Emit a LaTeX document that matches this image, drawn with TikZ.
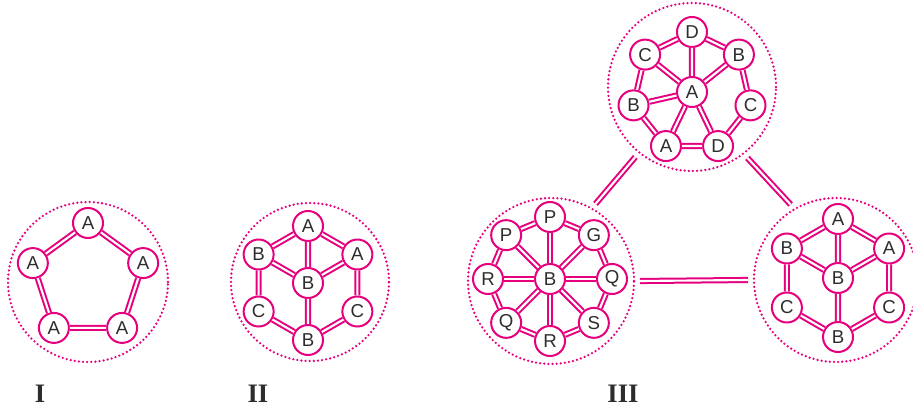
\documentclass[tikz,border=0pt]{standalone}
\usepackage{fontspec}
\setmainfont{Liberation Serif}
\newfontfamily\atomfont{Liberation Sans}
\definecolor{mag}{RGB}{230,0,126}
\definecolor{txt}{RGB}{45,45,45}
\begin{document}
\begin{tikzpicture}[x=0.75pt,y=-0.75pt,
  atom/.style={circle,draw=mag,line width=1.5pt,fill=white,minimum size=22.5pt,inner sep=0pt,
    font=\atomfont\fontsize{14}{14}\selectfont,text=txt},
  bond/.style={draw=mag,line width=1.5pt,double=white,double distance=1.6pt},
  group/.style={circle,draw=mag,line width=1.9pt,line cap=round,dash pattern=on 0pt off 3.1pt,
    inner sep=0pt,outer sep=4.5pt,minimum size=#1},
  roman/.style={font=\bfseries\fontsize{20}{24}\selectfont,text=txt}]
\useasboundingbox (0,0) rectangle (913,409);

% ---------- I ----------
\node[group=120pt] (g1) at (88,282) {};
\begin{scope}[shift={(88,281)}]
  \node[atom] (a1) at (-90:58) {A};
  \node[atom] (a2) at (-18:58) {A};
  \node[atom] (a3) at (54:58) {A};
  \node[atom] (a4) at (126:58) {A};
  \node[atom] (a5) at (198:58) {A};
\end{scope}
\draw[bond] (a1)--(a2) (a2)--(a3) (a3)--(a4) (a4)--(a5) (a5)--(a1);

% ---------- II ----------
\node[group=118.5pt] (g2) at (310,282) {};
\begin{scope}[shift={(308,283)}]
  \node[atom] (b0) at (0,0) {B};
  \node[atom] (b1) at (-90:57) {A};
  \node[atom] (b2) at (-30:57) {A};
  \node[atom] (b3) at (30:57) {C};
  \node[atom] (b4) at (90:57) {B};
  \node[atom] (b5) at (150:57) {C};
  \node[atom] (b6) at (210:57) {B};
\end{scope}
\draw[bond] (b1)--(b2) (b2)--(b3) (b3)--(b4) (b4)--(b5) (b5)--(b6) (b6)--(b1)
  (b0)--(b1) (b0)--(b2) (b0)--(b4) (b0)--(b6);

% ---------- III top ----------
\node[group=126pt] (gT) at (692,87) {};
\begin{scope}[shift={(692,92)}]
  \node[atom] (t0) at (0,0) {A};
  \node[atom] (t1) at (-90:60) {D};
  \node[atom] (t2) at (-38.57:60) {B};
  \node[atom] (t3) at (12.86:60) {C};
  \node[atom] (t4) at (64.29:60) {D};
  \node[atom] (t5) at (115.71:60) {A};
  \node[atom] (t6) at (167.14:60) {B};
  \node[atom] (t7) at (218.57:60) {C};
\end{scope}
\draw[bond] (t1)--(t2) (t2)--(t3) (t3)--(t4) (t4)--(t5) (t5)--(t6) (t6)--(t7) (t7)--(t1)
  (t0)--(t1) (t0)--(t2) (t0)--(t4) (t0)--(t5) (t0)--(t6) (t0)--(t7);

% ---------- III left ----------
\node[group=124.5pt] (gL) at (551,281) {};
\begin{scope}[shift={(550,279)}]
  \node[atom] (l0) at (0,0) {B};
  \node[atom] (l1) at (-90:62) {P};
  \node[atom] (l2) at (-45:62) {G};
  \node[atom] (l3) at (0:62) {Q};
  \node[atom] (l4) at (45:62) {S};
  \node[atom] (l5) at (90:62) {R};
  \node[atom] (l6) at (135:62) {Q};
  \node[atom] (l7) at (180:62) {R};
  \node[atom] (l8) at (225:62) {P};
\end{scope}
\draw[bond] (l1)--(l2) (l2)--(l3) (l3)--(l4) (l4)--(l5) (l5)--(l6) (l6)--(l7) (l7)--(l8) (l8)--(l1);
\foreach \i in {1,...,8} \draw[bond] (l0)--(l\i);

% ---------- III right ----------
\node[group=123pt] (gR) at (836,280) {};
\begin{scope}[shift={(838,278)}]
  \node[atom] (r0) at (0,0) {B};
  \node[atom] (r1) at (-90:59) {A};
  \node[atom] (r2) at (-30:59) {A};
  \node[atom] (r3) at (30:59) {C};
  \node[atom] (r4) at (90:59) {B};
  \node[atom] (r5) at (150:59) {C};
  \node[atom] (r6) at (210:59) {B};
\end{scope}
\draw[bond] (r1)--(r2) (r2)--(r3) (r3)--(r4) (r4)--(r5) (r5)--(r6) (r6)--(r1)
  (r0)--(r1) (r0)--(r2) (r0)--(r4) (r0)--(r6);

% ---------- links between groups ----------
\draw[bond] (gT.231)--(gL.60);
\draw[bond] (gT.308)--(gR.121);
\draw[bond] (gL.0)--(gR.180);

% ---------- labels ----------
\node[roman] (n1) at (40,394) {I};
\node[roman] (n2) at (258,394) {II};
\node[roman] (n3) at (623,394) {III};
\end{tikzpicture}
\end{document}
